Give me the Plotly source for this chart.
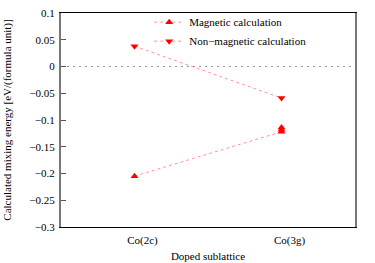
import plotly.graph_objects as go

# Data
mag_x = ["Co(2c)", "Co(3g)", "Co(3g)", "Co(3g)"]
mag_y = [-0.205, -0.122, -0.118, -0.114]
nonmag_x = ["Co(2c)", "Co(3g)"]
nonmag_y = [0.038, -0.059]
categories = ["Co(2c)", "Co(3g)"]
y_ticks = [0.1, 0.05, 0, -0.05, -0.1, -0.15, -0.2, -0.25, -0.3]
y_tick_text = ["0.1", "0.05", "0", "\u22120.05", "\u22120.1", "\u22120.15", "\u22120.2", "\u22120.25", "\u22120.3"]
series_names = ["Magnetic calculation", "Non\u2212magnetic calculation"]

FONT = "Liberation Serif, Times New Roman, serif"
line_style = dict(color="rgba(255,60,60,0.55)", width=1, dash="3px,3px")

fig = go.Figure()
fig.add_trace(go.Scatter(
    x=mag_x, y=mag_y, mode="lines+markers", name=series_names[0],
    line=line_style,
    marker=dict(symbol="triangle-up", size=7, color="#ff0000"),
))
fig.add_trace(go.Scatter(
    x=nonmag_x, y=nonmag_y, mode="lines+markers", name=series_names[1],
    line=line_style,
    marker=dict(symbol="triangle-down", size=7, color="#ff0000"),
))

# zero line
fig.add_hline(y=0, line=dict(color="#999999", width=1, dash="2px,4px"), layer="below")

fig.update_layout(
    width=375, height=263,
    margin=dict(l=61, r=20, t=13, b=36, autoexpand=False),
    paper_bgcolor="white", plot_bgcolor="white",
    font=dict(family=FONT, size=11, color="black"),
    legend=dict(x=0.30, y=1.025, xanchor="left", yanchor="top",
                bgcolor="rgba(255,255,255,0)", font=dict(size=11, family=FONT),
                itemwidth=30, tracegroupgap=0),
    xaxis=dict(
        type="category", categoryorder="array", categoryarray=categories,
        range=[-0.5, 1.5], automargin=False,
        showline=True, linecolor="black", linewidth=1, mirror=True,
        showgrid=False, zeroline=False,
        ticks="", ticklen=4, ticklabelstandoff=3, ticklabelshift=8,
        title=dict(text="Doped sublattice", font=dict(size=11, family=FONT), standoff=6),
        tickfont=dict(size=11, family=FONT),
    ),
    yaxis=dict(
        range=[-0.3, 0.1], automargin=False,
        tickvals=y_ticks, ticktext=y_tick_text,
        showline=True, linecolor="#777777", linewidth=2, mirror=True,
        showgrid=False, zeroline=False,
        ticks="inside", ticklen=5, tickcolor="#555555", ticklabelstandoff=2,
        title=dict(text="Calculated mixing energy [eV/(formula unit)]", font=dict(size=11, family=FONT), standoff=15),
        tickfont=dict(size=11, family=FONT),
    ),
)

fig.write_html("out.html", config={"displayModeBar": False},
               post_script="document.body.style.margin='0';")
